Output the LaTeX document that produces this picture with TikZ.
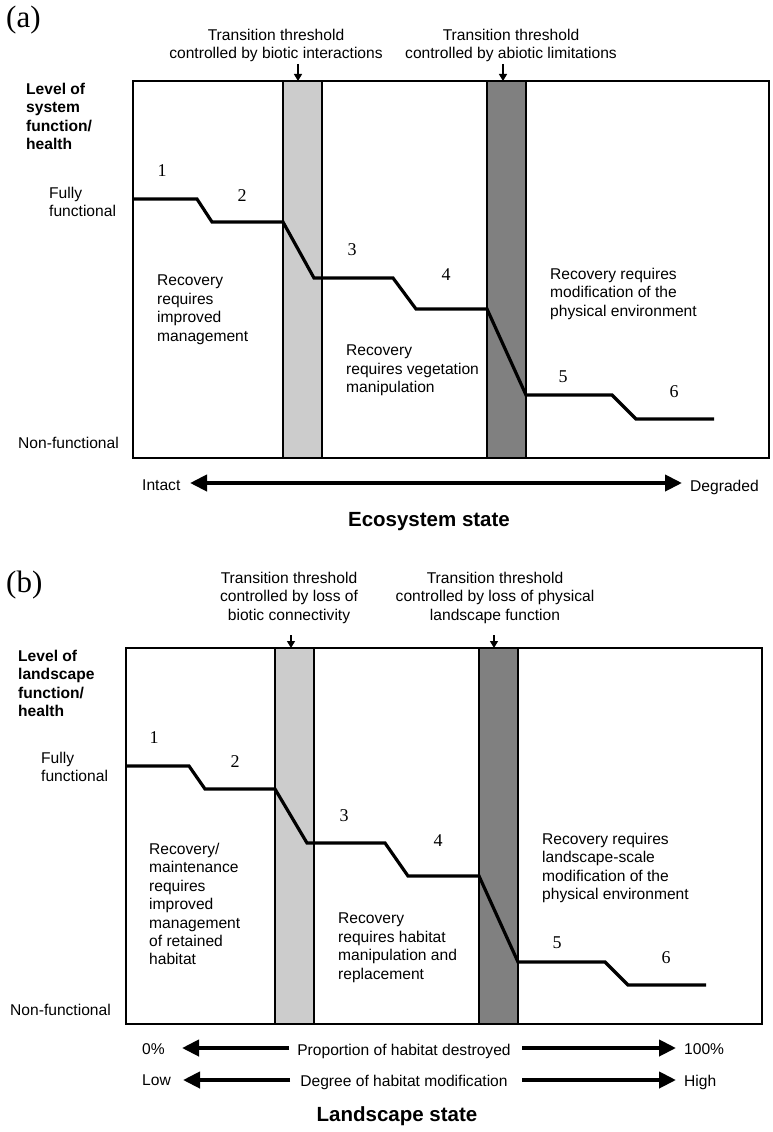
\documentclass[tikz,border=0pt]{standalone}
\usepackage{fontspec}
\setmainfont{Liberation Sans}
\newfontfamily\numfont{Liberation Serif}
\usetikzlibrary{arrows.meta}

\begin{document}
\begin{tikzpicture}[x=1pt,y=-1pt,
  txt/.style={inner sep=0pt, font=\fontsize{15.6}{18.4}\selectfont, align=left},
  ctxt/.style={inner sep=0pt, font=\fontsize{15.6}{18.4}\selectfont, align=center},
  ylab/.style={inner sep=0pt, font=\bfseries\fontsize{15.6}{18.4}\selectfont, align=left},
  axistitle/.style={inner sep=0pt, font=\bfseries\fontsize{20.5}{24}\selectfont},
  num/.style={inner sep=0pt, font=\numfont\fontsize{18}{20}\selectfont},
  panel/.style={inner sep=0pt, font=\numfont\fontsize{31}{33}\selectfont},
  frame/.style={draw=black, line width=1.8pt},
  lightband/.style={fill=black!20, draw=black, line width=1.8pt},
  darkband/.style={fill=black!50, draw=black, line width=1.8pt},
  curve/.style={line width=3.2pt, line join=miter},
  pointer/.style={line width=1.2pt, -{Triangle[length=7pt,width=8pt]}},
  bigarrow/.style={line width=4pt, -{Triangle[length=17pt,width=16pt]}},
  twoway/.style={line width=4pt, {Triangle[length=17pt,width=16pt]}-{Triangle[length=17pt,width=16pt]}},
]
\useasboundingbox (0,0) rectangle (773,1132);
\fill[white] (0,0) rectangle (773,1132);

%% ---------------- Panel (a) ----------------
\node[panel, anchor=base west] (pa) at (6,28) {(a)};

\node[ctxt, anchor=north] (ta1) at (276,28.5) {Transition threshold\\controlled by biotic interactions};
\node[ctxt, anchor=north] (ta2) at (511,28.5) {Transition threshold\\controlled by abiotic limitations};

\draw[frame] (133,81) rectangle (769,458);
\draw[lightband] (283,81) rectangle (322,458);
\draw[darkband] (487,81) rectangle (526,458);

\coordinate (pa1s) at (298,64);  \coordinate (pa1e) at (298,81);
\coordinate (pa2s) at (503,64);  \coordinate (pa2e) at (503,81);
\draw[pointer] (pa1s) -- (pa1e);
\draw[pointer] (pa2s) -- (pa2e);

\node[ylab, anchor=north west] (ya) at (26,83) {Level of\\system\\function/\\health};
\node[txt, anchor=north west] (fa) at (49,187) {Fully\\functional};
\node[txt, anchor=base west] (na) at (18,448) {Non-functional};

\draw[curve] (133,199) -- (197,199) -- (212,222) -- (283,222) -- (314,278)
  -- (393,278) -- (416,309) -- (487,309) -- (526,395) -- (612,395)
  -- (636,419) -- (714,419);

\node[num] (a1) at (162,171) {1};
\node[num] (a2) at (242,196) {2};
\node[num] (a3) at (352,250) {3};
\node[num] (a4) at (446,275) {4};
\node[num] (a5) at (563,377) {5};
\node[num] (a6) at (674,392) {6};

\node[txt, anchor=north west] (ra1) at (157,275) {Recovery\\requires\\improved\\management};
\node[txt, anchor=north west] (ra2) at (346,345) {Recovery\\requires vegetation\\manipulation};
\node[txt, anchor=north west] (ra3) at (550,268) {Recovery requires\\modification of the\\physical environment};

\node[txt, anchor=west] (intact) at (142,485) {Intact};
\node[txt, anchor=base west] (degraded) at (690,491) {Degraded};
\coordinate (aL) at (190,483); \coordinate (aR) at (682,483);
\draw[twoway] (aL) -- (aR);
\node[axistitle, anchor=base] (eco) at (429,526) {Ecosystem state};

%% ---------------- Panel (b) ----------------
\node[panel, anchor=base west] (pb) at (6,592) {(b)};

\node[ctxt, anchor=north] (tb1) at (289,572) {Transition threshold\\controlled by loss of\\biotic connectivity};
\node[ctxt, anchor=north] (tb2) at (495,572) {Transition threshold\\controlled by loss of physical\\landscape function};

\draw[frame] (126,648) rectangle (762,1024);
\draw[lightband] (275,648) rectangle (314,1024);
\draw[darkband] (479,648) rectangle (518,1024);

\coordinate (pb1s) at (291,635);  \coordinate (pb1e) at (291,648);
\coordinate (pb2s) at (494,635);  \coordinate (pb2e) at (494,648);
\draw[pointer] (pb1s) -- (pb1e);
\draw[pointer] (pb2s) -- (pb2e);

\node[ylab, anchor=north west] (yb) at (18,650) {Level of\\landscape\\function/\\health};
\node[txt, anchor=north west] (fb) at (41,752) {Fully\\functional};
\node[txt, anchor=base west] (nb) at (10,1015) {Non-functional};

\draw[curve] (126,766) -- (189,766) -- (205,789) -- (275,789) -- (307,843)
  -- (385,843) -- (408,876) -- (479,876) -- (518,962) -- (605,962)
  -- (628,985) -- (706,985);

\node[num] (b1) at (154,738) {1};
\node[num] (b2) at (235,762) {2};
\node[num] (b3) at (344,816) {3};
\node[num] (b4) at (438,841) {4};
\node[num] (b5) at (557,943) {5};
\node[num] (b6) at (666,958) {6};

\node[txt, anchor=north west] (rb1) at (149,843) {Recovery/\\maintenance\\requires\\improved\\management\\of retained\\habitat};
\node[txt, anchor=north west] (rb2) at (338,913) {Recovery\\requires habitat\\manipulation and\\replacement};
\node[txt, anchor=north west] (rb3) at (542,833) {Recovery requires\\landscape-scale\\modification of the\\physical environment};

% proportion of habitat destroyed
\node[txt, anchor=west] (p0) at (142,1049.5) {0\%};
\node[txt, anchor=base] (pmid) at (404,1055) {Proportion of habitat destroyed};
\node[txt, anchor=west] (p100) at (684,1049.5) {100\%};
\coordinate (p1a) at (289,1048); \coordinate (p1b) at (182,1048);
\coordinate (p2a) at (522,1048); \coordinate (p2b) at (676,1048);
\draw[bigarrow] (p1a) -- (p1b);
\draw[bigarrow] (p2a) -- (p2b);

% degree of habitat modification
\node[txt, anchor=west] (dlow) at (142,1080.5) {Low};
\node[txt, anchor=base] (dmid) at (404,1086) {Degree of habitat modification};
\node[txt, anchor=base west] (dhigh) at (684,1086) {High};
\coordinate (d1a) at (290,1080); \coordinate (d1b) at (183,1080);
\coordinate (d2a) at (522,1080); \coordinate (d2b) at (676,1080);
\draw[bigarrow] (d1a) -- (d1b);
\draw[bigarrow] (d2a) -- (d2b);

\node[axistitle, anchor=base] (land) at (397,1121) {Landscape state};
\end{tikzpicture}
\end{document}
